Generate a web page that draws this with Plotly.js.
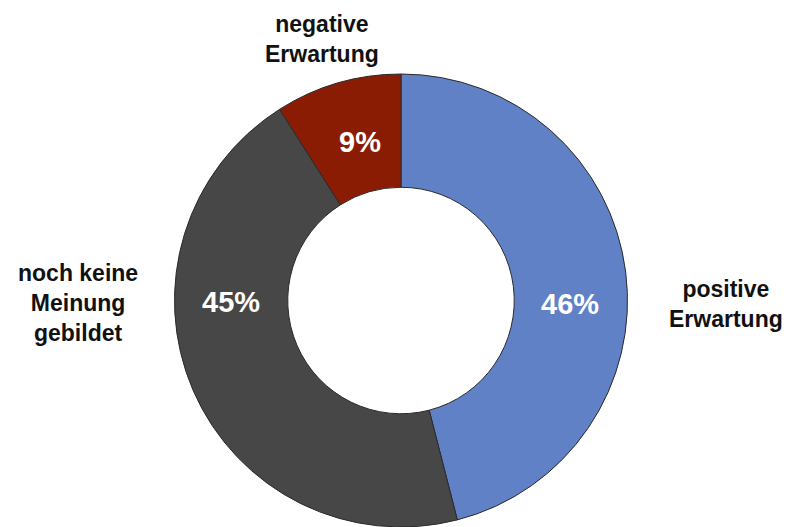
<!DOCTYPE html>
<html>
<head>
<meta charset="utf-8">
<script src="https://cdn.plot.ly/plotly-3.0.1.min.js"></script>
<style>html,body{margin:0;padding:0;background:#fff;}#chart{width:790px;height:527px;}</style>
</head>
<body>
<div id="chart"></div>
<script>
const categories = ["positive Erwartung", "noch keine Meinung gebildet", "negative Erwartung"];
const values = [46, 45, 9];
const colors = ["#6181c7", "#474747", "#8b1c04"];
const outsideLabels = ["positive<br>Erwartung", "noch keine<br>Meinung<br>gebildet", "negative<br>Erwartung"];

const trace = {
  type: "pie",
  labels: categories,
  values: values,
  hole: 0.5,
  sort: false,
  direction: "clockwise",
  rotation: 0,
  marker: { colors: colors, line: { color: "#2a2a2a", width: 1 } },
  textinfo: "none",
  hoverinfo: "label+percent",
  showlegend: false
};

const labelFont = { family: "Liberation Sans, Arial, sans-serif", size: 23, color: "#111111", weight: "bold" };
const pctFont = { family: "Liberation Sans, Arial, sans-serif", size: 29, color: "#ffffff", weight: "bold" };
const layout = {
  width: 790,
  height: 527,
  margin: { l: 100, r: 88, t: 74, b: 0 },
  paper_bgcolor: "#ffffff",
  plot_bgcolor: "#ffffff",
  showlegend: false,
  annotations: []
};
// label anchor pixel positions (text placement only)
const labelPos = [[726, 304], [78, 303], [322, 39]];
const pctPos = [[570, 304], [231, 302], [360, 142]];
const pw = layout.width - layout.margin.l - layout.margin.r;
const ph = layout.height - layout.margin.t - layout.margin.b;
function toPaper(p) {
  return [(p[0] - layout.margin.l) / pw, (layout.height - layout.margin.b - p[1]) / ph];
}
categories.forEach((c, i) => {
  const lp = toPaper(labelPos[i]);
  layout.annotations.push({ text: outsideLabels[i], x: lp[0], y: lp[1], xref: "paper", yref: "paper",
    xanchor: "center", yanchor: "middle", showarrow: false, font: labelFont, align: "center" });
  const pp = toPaper(pctPos[i]);
  layout.annotations.push({ text: values[i] + "%", x: pp[0], y: pp[1], xref: "paper", yref: "paper",
    xanchor: "center", yanchor: "middle", showarrow: false, font: pctFont, align: "center" });
});

Plotly.newPlot("chart", [trace], layout, { displayModeBar: false, staticPlot: true });
</script>
</body>
</html>
